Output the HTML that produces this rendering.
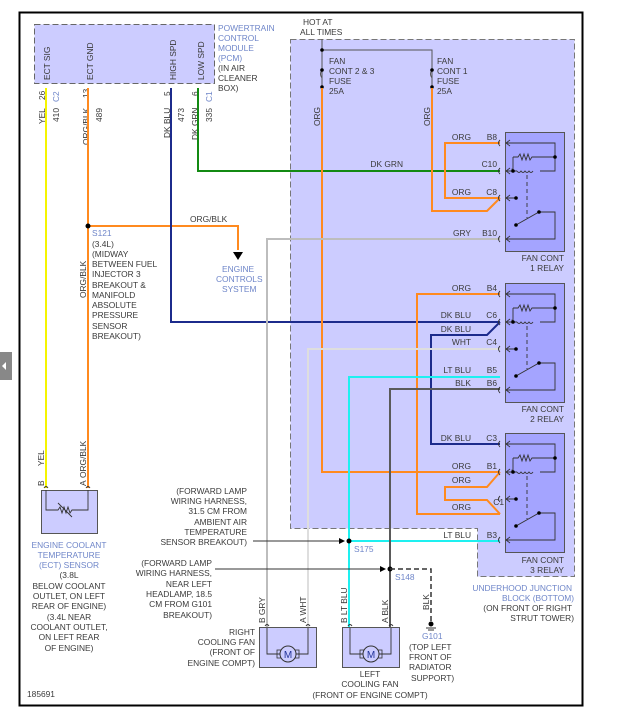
<!DOCTYPE html>
<html><head><meta charset="utf-8"><style>
html,body{margin:0;padding:0;background:#fff;}
svg{display:block;font-family:"Liberation Sans",sans-serif;font-size:8.4px;}
.d{fill:#3a3a3a}.b{fill:#6f86c9}
</style></head><body>
<svg width="644" height="727" viewBox="0 0 644 727" xmlns="http://www.w3.org/2000/svg">
<rect x="0" y="352" width="12" height="28" fill="#888"/>
<polygon points="6,362 2,366 6,370" fill="#fff"/>
<rect x="19.5" y="12.5" width="563" height="693" fill="#fff" stroke="#000" stroke-width="2"/>
<!-- PCM -->
<rect x="34.5" y="24.5" width="180" height="59" fill="#ccccff" stroke="#666" stroke-dasharray="6,3"/>
<g class="d">
<text transform="translate(50,80) rotate(-90)">ECT SIG</text>
<text transform="translate(93,80) rotate(-90)">ECT GND</text>
<text transform="translate(176,80) rotate(-90)">HIGH SPD</text>
<text transform="translate(204,80) rotate(-90)">LOW SPD</text>
</g>
<text x="218" y="31" class="b">POWERTRAIN</text>
<text x="218" y="41" class="b">CONTROL</text>
<text x="218" y="51" class="b">MODULE</text>
<text x="218" y="61" class="b">(PCM)</text>
<text x="218" y="71" class="d">(IN AIR</text>
<text x="218" y="81" class="d">CLEANER</text>
<text x="218" y="91" class="d">BOX)</text>
<!-- pin labels -->
<g class="d">
<text transform="translate(45,100) rotate(-90)">26</text>
<text transform="translate(59,122) rotate(-90)">410</text>
<text transform="translate(45,124) rotate(-90)">YEL</text>
<text transform="translate(89,98) rotate(-90)">13</text>
<text transform="translate(102,122) rotate(-90)">489</text>
<text transform="translate(89,145) rotate(-90)">ORG/BLK</text>
<text transform="translate(170,96) rotate(-90)">5</text>
<text transform="translate(184,122) rotate(-90)">473</text>
<text transform="translate(170,138) rotate(-90)">DK BLU</text>
<text transform="translate(198,96) rotate(-90)">6</text>
<text transform="translate(212,122) rotate(-90)">335</text>
<text transform="translate(198,140) rotate(-90)">DK GRN</text>
</g>
<text transform="translate(59,102) rotate(-90)" class="b">C2</text>
<text transform="translate(212,102) rotate(-90)" class="b">C1</text>
<!-- junction block -->
<path d="M290.5,39.5 H574.5 V576.5 H477.5 V528.5 H290.5 Z" fill="#ccccff" stroke="#777" stroke-dasharray="6,3"/>
<text x="303" y="25" class="d">HOT AT</text>
<text x="300" y="35" class="d">ALL TIMES</text>
<path d="M322,39 V88 M322,50 H432 V88" stroke="#555" fill="none"/>
<path d="M322,70 q-3,4 0,8 M432,70 q-3,4 0,8" stroke="#555" fill="none"/>
<g fill="#000"><circle cx="322" cy="50" r="1.8"/><circle cx="322" cy="70" r="1.8"/><circle cx="322" cy="87" r="1.8"/><circle cx="432" cy="70" r="1.8"/><circle cx="432" cy="87" r="1.8"/></g>
<g class="d"><text x="329" y="64">FAN</text><text x="329" y="74">CONT 2 &amp; 3</text><text x="329" y="84">FUSE</text><text x="329" y="94">25A</text>
<text x="437" y="64">FAN</text><text x="437" y="74">CONT 1</text><text x="437" y="84">FUSE</text><text x="437" y="94">25A</text>
<text transform="translate(320,126) rotate(-90)">ORG</text><text transform="translate(430,126) rotate(-90)">ORG</text></g>
<!-- wires -->
<g fill="none" stroke-width="2">
<path d="M46,88 V488" stroke="#f5f500"/>
<path d="M88,88 V488 M88,226 H238 V250" stroke="#ff8a1f"/>
<path d="M198,88 V171 H500" stroke="#138a13"/>
<path d="M171,88 V322 H500 M500,322 L487,335 H431 V444 H500" stroke="#1c2b8c"/>
<path d="M322,88 V472 H500 M432,88 V211 H487 L500,198 M500,143 H445 V198 H500 M500,294 H417 V514 H500 M500,472 L487,487 H445 V500 H487 L500,514" stroke="#ff8a1f"/>
<path d="M500,239 H267 V628" stroke="#bdbdbd"/>
<path d="M500,349 H308 V628" stroke="#dedede"/>
<path d="M500,377 H349 V628 M349,541 H500" stroke="#1ef0f0"/>
<path d="M500,389 H390 V628" stroke="#5a5a5a"/>
</g>
<polygon points="233,252 243,252 238,260" fill="#000"/>
<circle cx="88" cy="226" r="2.5" fill="#000"/>
<text x="190" y="222" class="d">ORG/BLK</text>
<text x="222" y="272" class="b">ENGINE</text><text x="216" y="282" class="b">CONTROLS</text><text x="222" y="292" class="b">SYSTEM</text>
<text x="92" y="236" class="b">S121</text>
<g class="d"><text x="92" y="247">(3.4L)</text><text x="92" y="257">(MIDWAY</text><text x="92" y="267">BETWEEN FUEL</text><text x="92" y="277">INJECTOR 3</text><text x="92" y="288">BREAKOUT &amp;</text><text x="92" y="298">MANIFOLD</text><text x="92" y="308">ABSOLUTE</text><text x="92" y="318">PRESSURE</text><text x="92" y="329">SENSOR</text><text x="92" y="339">BREAKOUT)</text>
<text transform="translate(86,298) rotate(-90)">ORG/BLK</text>
<text transform="translate(86,478) rotate(-90)">ORG/BLK</text>
<text transform="translate(44,466) rotate(-90)">YEL</text>
</g>
<!-- wire labels junction -->
<g class="d" text-anchor="end">
<text x="471" y="140">ORG</text><text x="497" y="140">B8</text>
<text x="403" y="167">DK GRN</text><text x="497" y="167">C10</text>
<text x="471" y="195">ORG</text><text x="497" y="195">C8</text>
<text x="471" y="236">GRY</text><text x="497" y="236">B10</text>
<text x="471" y="291">ORG</text><text x="497" y="291">B4</text>
<text x="471" y="318">DK BLU</text><text x="497" y="318">C6</text>
<text x="471" y="332">DK BLU</text>
<text x="471" y="345">WHT</text><text x="497" y="345">C4</text>
<text x="471" y="373">LT BLU</text><text x="497" y="373">B5</text>
<text x="471" y="386">BLK</text><text x="497" y="386">B6</text>
<text x="471" y="441">DK BLU</text><text x="497" y="441">C3</text>
<text x="471" y="469">ORG</text><text x="497" y="469">B1</text>
<text x="471" y="483">ORG</text><text x="504" y="505">C1</text>
<text x="471" y="510">ORG</text>
<text x="471" y="538">LT BLU</text><text x="497" y="538">B3</text>
<text x="564" y="261">FAN CONT</text><text x="564" y="271">1 RELAY</text>
<text x="564" y="412">FAN CONT</text><text x="564" y="422">2 RELAY</text>
<text x="564" y="563">FAN CONT</text><text x="564" y="573">3 RELAY</text>
</g>
<g text-anchor="end"><text x="572" y="591" class="b">UNDERHOOD JUNCTION</text><text x="574" y="601" class="b">BLOCK (BOTTOM)</text><text x="572" y="611" class="d">(ON FRONT OF RIGHT</text><text x="574" y="621" class="d">STRUT TOWER)</text></g>
<!-- relays -->
<defs>
<g id="rel">
<rect x="505.5" y="132.5" width="59" height="119" fill="#a4a4ff" stroke="#555"/>
<g fill="none" stroke="#333" stroke-width="0.9">
<path d="M500,140 q-3,3 0,6 M500,168 q-3,3 0,6 M500,195 q-3,3 0,6 M500,236 q-3,3 0,6"/>
<path d="M506,143 H555 V171 H540 M512,171 q0,-4 0,0 M513,157 H518 l2,-3 2,6 2,-6 2,6 2,-6 2,6 2,-3 H555 M513,157 V171 M517,171 q2,3 4,0 q2,3 4,0 q2,3 4,0 q2,3 4,0 M506,171 H517 M506,198 H516 M516,225 L539,212 H555 V239 H506"/>
<path d="M527,175 V218" stroke-dasharray="4,3"/>
<path d="M510,140 l-4,3 4,3 M510,168 l-4,3 4,3 M510,195 l-4,3 4,3 M510,236 l-4,3 4,3"/>
</g>
<g fill="#000"><circle cx="555" cy="157" r="1.8"/><circle cx="513" cy="171" r="1.8"/><circle cx="516" cy="198" r="1.8"/><circle cx="516" cy="225" r="1.8"/><circle cx="539" cy="212" r="1.8"/></g>
</g>
</defs>
<use href="#rel"/>
<use href="#rel" transform="translate(0,151)"/>
<use href="#rel" transform="translate(0,301)"/>
<!-- ECT sensor -->
<rect x="41.5" y="490.5" width="56" height="43" fill="#ccccff" stroke="#555"/>
<path d="M46,490 V510 H58 l2,-3 2,6 2,-6 2,6 2,-6 2,6 2,-3 H88 V490 M58,503 l14,14 M44,488 q2,-3 4,0 M86,488 q2,-3 4,0" fill="none" stroke="#333" stroke-width="0.9"/>
<g class="d"><text transform="translate(44,486) rotate(-90)">B</text><text transform="translate(86,486) rotate(-90)">A</text></g>
<g text-anchor="middle">
<text x="69" y="548" class="b">ENGINE COOLANT</text><text x="69" y="558" class="b">TEMPERATURE</text><text x="69" y="568" class="b">(ECT) SENSOR</text>
<text x="69" y="578" class="d">(3.8L</text><text x="69" y="589" class="d">BELOW COOLANT</text><text x="69" y="599" class="d">OUTLET, ON LEFT</text><text x="69" y="609" class="d">REAR OF ENGINE)</text><text x="69" y="620" class="d">(3.4L NEAR</text><text x="69" y="630" class="d">COOLANT OUTLET,</text><text x="69" y="640" class="d">ON LEFT REAR</text><text x="69" y="651" class="d">OF ENGINE)</text>
</g>
<!-- splices -->
<path d="M253,541 H343 M215,569 H384" stroke="#333" fill="none"/>
<polygon points="345,541 339,538 339,544" fill="#000"/><polygon points="386,569 380,566 380,572" fill="#000"/>
<circle cx="349" cy="541" r="2.5" fill="#000"/><circle cx="390" cy="569" r="2.5" fill="#000"/>
<path d="M390,569 H431 V622" stroke="#333" stroke-dasharray="5,3" fill="none" stroke-width="1.5"/>
<circle cx="431" cy="624" r="2.5" fill="#000"/><path d="M426,628 h10 M428,630 h6" stroke="#333"/>
<text x="354" y="552" class="b">S175</text><text x="395" y="580" class="b">S148</text>
<g class="d" text-anchor="end">
<text x="247" y="494">(FORWARD LAMP</text><text x="247" y="504">WIRING HARNESS,</text><text x="247" y="514">31.5 CM FROM</text><text x="247" y="525">AMBIENT AIR</text><text x="247" y="535">TEMPERATURE</text><text x="247" y="545">SENSOR BREAKOUT)</text>
<text x="212" y="566">(FORWARD LAMP</text><text x="212" y="576">WIRING HARNESS,</text><text x="212" y="587">NEAR LEFT</text><text x="212" y="597">HEADLAMP, 18.5</text><text x="212" y="607">CM FROM G101</text><text x="212" y="618">BREAKOUT)</text>
<text x="255" y="635">RIGHT</text><text x="255" y="645">COOLING FAN</text><text x="255" y="655">(FRONT OF</text><text x="255" y="666">ENGINE COMPT)</text>
</g>
<g class="d" text-anchor="middle"><text x="370" y="677">LEFT</text><text x="370" y="687">COOLING FAN</text><text x="370" y="698">(FRONT OF ENGINE COMPT)</text></g>
<text x="422" y="639" class="b">G101</text>
<g class="d"><text x="409" y="650">(TOP LEFT</text><text x="409" y="660">FRONT OF</text><text x="409" y="670">RADIATOR</text><text x="411" y="681">SUPPORT)</text>
<text x="27" y="697">185691</text>
<text transform="translate(265,623) rotate(-90)">B  GRY</text><text transform="translate(306,623) rotate(-90)">A  WHT</text>
<text transform="translate(347,623) rotate(-90)">B  LT BLU</text><text transform="translate(388,623) rotate(-90)">A  BLK</text>
<text transform="translate(429,610) rotate(-90)">BLK</text></g>
<!-- fans -->
<g id="fan">
<rect x="259.5" y="627.5" width="57" height="40" fill="#ccccff" stroke="#555"/>
<path d="M267,628 V654 H280 M296,654 H308 V628 M265,626 q2,-3 4,0 M306,626 q2,-3 4,0" fill="none" stroke="#333" stroke-width="0.9"/>
<rect x="277" y="650" width="22" height="8" fill="none" stroke="#333" stroke-width="0.8"/>
<circle cx="288" cy="654" r="8" fill="#ccccff" stroke="#333"/>
<text x="288" y="658" text-anchor="middle" fill="#223399" font-size="10">M</text>
</g>
<use href="#fan" transform="translate(83,0)"/>
</svg>
</body></html>
